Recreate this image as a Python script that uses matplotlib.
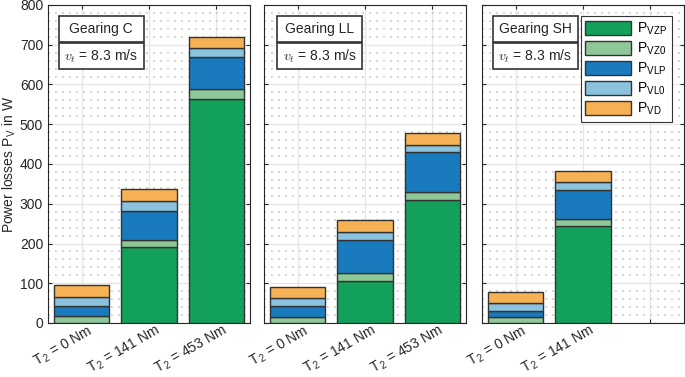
import numpy as np
import matplotlib
matplotlib.use("Agg")
import matplotlib.pyplot as plt
from matplotlib.patches import Rectangle
from matplotlib.ticker import MultipleLocator
from matplotlib.transforms import ScaledTranslation

plt.rcParams['font.family'] = ['Liberation Sans', 'DejaVu Sans']
plt.rcParams['mathtext.fontset'] = 'cm'

# data (segment heights in W)
gearings = ["Gearing C", "Gearing LL", "Gearing SH"]
torques = [["0", "141", "453"], ["0", "141", "453"], ["0", "141"]]
p_vzp = [[1, 190, 563], [1, 106, 309], [1, 243]]
p_vz0 = [[17, 20, 25], [13, 19, 20], [13, 19]]
p_vlp = [[26, 73, 80], [30, 85, 100], [16, 73]]
p_vl0 = [[22, 23, 23], [18, 20, 19], [20, 19]]
p_vd = [[30, 30, 29], [28, 28, 29], [28, 28]]
speed = "8.3"

comp_names = ["VZP", "VZ0", "VLP", "VL0", "VD"]
colors = ["#13a05a", "#8ec898", "#197bbd", "#8bc2de", "#f6b155"]
dark = "#262626"

fig = plt.figure(figsize=(6.85, 3.77), dpi=100)
lefts = [48, 264, 482]
axes = []
# nudge the rotated tick labels right/up like the original
shift = ScaledTranslation(6 / 100, 3 / 100, fig.dpi_scale_trans)
for i in range(3):
  ax = fig.add_axes([lefts[i] / 685, 1 - 323 / 377, 202 / 685, 318 / 377])
  axes.append(ax)
  comps = [p_vzp[i], p_vz0[i], p_vlp[i], p_vl0[i], p_vd[i]]
  n = len(comps[0])
  x = np.arange(1, n + 1)
  bottom = np.zeros(n)
  for name, vals, col in zip(comp_names, comps, colors):
    ax.bar(x, vals, 0.82, bottom=bottom, color=col, edgecolor="#333333",
           linewidth=1.0, label=r"P$_{\mathregular{%s}}$" % name, zorder=3)
    bottom += np.array(vals)
  ax.set_xlim(0.5, 3.5)
  ax.set_ylim(0, 800)
  ax.yaxis.set_major_locator(MultipleLocator(100))
  ax.yaxis.set_minor_locator(MultipleLocator(20))
  ax.grid(True, which="major", color="#e6e6e6", linewidth=1.0, zorder=0)
  ax.grid(True, which="minor", axis="y", color="#d0d0d0",
          linestyle=(0, (1.2, 3)), linewidth=1.2, zorder=0)
  ax.set_axisbelow(True)
  ax.tick_params(which="major", direction="in", top=True, right=True,
                 length=3, color=dark, labelsize=10, labelcolor=dark)
  ax.tick_params(which="minor", length=0)
  ax.tick_params(axis="x", pad=2)
  ax.set_xticks([1, 2, 3])
  labs = [r"T$_{\mathregular{2}}$ = %s Nm" % t for t in torques[i]]
  labs += [""] * (3 - len(labs))
  ax.set_xticklabels(labs, rotation=30, ha="right", va="top",
                     rotation_mode="anchor", fontsize=10, color=dark)
  for lab in ax.get_xticklabels():
    lab.set_transform(lab.get_transform() + shift)
  for s in ax.spines.values():
    s.set_color(dark)
    s.set_linewidth(0.8)
  if i > 0:
    ax.set_yticklabels([])

  # title boxes
  x0 = 0.66 if i != 1 else 0.70
  w = 1.26
  ax.add_patch(Rectangle((x0, 707), w, 65, facecolor="white",
                         edgecolor="#333333", linewidth=1.2, zorder=5))
  ax.add_patch(Rectangle((x0, 639), w, 66, facecolor="white",
                         edgecolor="#333333", linewidth=1.2, zorder=5))
  ax.text(x0 + w / 2, 739.5, gearings[i], ha="center", va="center",
          fontsize=10, color=dark, zorder=6)
  ax.text(x0 + w / 2, 672, r"$v_t$ = %s m/s" % speed, ha="center",
          va="center", fontsize=10, color=dark, zorder=6)

axes[0].set_ylabel(r"Power losses P$_{\mathregular{V}}$ in W", fontsize=10,
                   color=dark, labelpad=1)

leg = axes[2].legend(loc="upper right", bbox_to_anchor=(0.94, 0.965),
                     borderaxespad=0, fontsize=10, handlelength=3.3,
                     handleheight=1.2, handletextpad=0.4, labelspacing=0.25,
                     borderpad=0.35, fancybox=False, framealpha=1,
                     edgecolor="#333333")
leg.get_frame().set_linewidth(0.8)
leg.set_zorder(10)

fig.savefig("out.png", dpi=100)
